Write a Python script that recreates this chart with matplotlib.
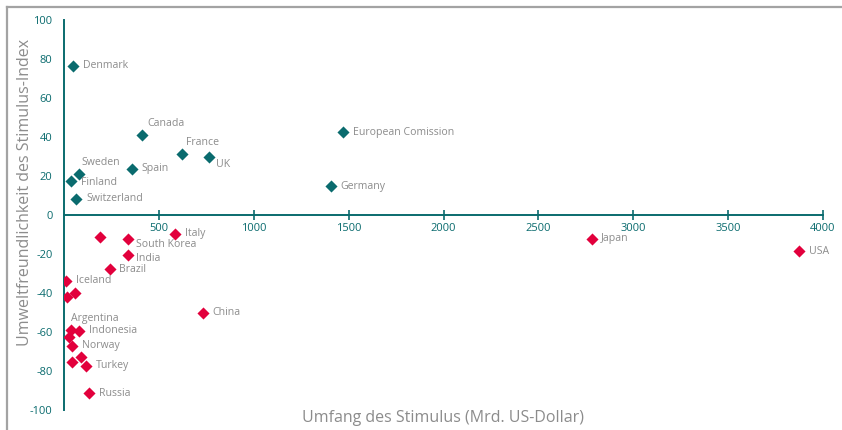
import matplotlib

matplotlib.use("Agg")
import matplotlib.pyplot as plt
from matplotlib.lines import Line2D

TEAL = "#0a6b6e"
RED = "#e2003c"
GRAY = "#8c8c8c"

# positive (green) stimulus packages
green_names = ["Denmark", "Canada", "France", "UK", "Spain", "Sweden", "Finland",
               "Switzerland", "European Comission", "Germany"]
green_x = [46, 408, 619, 763, 355, 76, 35, 63, 1469, 1406]
green_y = [76.6, 41, 31.4, 29.7, 23.6, 21.2, 17.4, 8.4, 42.4, 14.7]

# negative stimulus packages (empty name = unlabelled point)
red_names = ["", "South Korea", "Italy", "India", "Brazil", "Iceland", "", "", "China",
             "Argentina", "Indonesia", "", "Norway", "", "", "Turkey", "Russia",
             "Japan", "USA"]
red_x = [188, 336, 585, 336, 239, 11, 55, 14, 730, 37, 79, 23, 41, 90, 41, 113, 132,
         2780, 3875]
red_y = [-11.1, -12.1, -9.7, -20.3, -27.9, -33.8, -40.2, -42.2, -50.1, -58.8, -59.3,
         -62.7, -67, -72.7, -75.4, -77.4, -91.4, -12.3, -18.5]

x_ticks = [500, 1000, 1500, 2000, 2500, 3000, 3500, 4000]
y_ticks = [-100, -80, -60, -40, -20, 0, 20, 40, 60, 80, 100]

# label offsets in points (default: right of the marker)
offsets = {
    "Canada": (4, 8), "France": (3, 8), "UK": (5, -5), "Sweden": (2, 8),
    "Finland": (7, -1), "South Korea": (6, -4), "India": (6, -3),
    "Argentina": (0, 8),
}

plt.rcParams["font.family"] = ["Open Sans", "DejaVu Sans"]

fig = plt.figure(figsize=(8.42, 4.30), dpi=100)
ax = fig.add_axes([64.3 / 842, 20 / 430, (823 - 64.3) / 842, 390 / 430])

ax.scatter(green_x, green_y, marker="D", s=38, color=TEAL, linewidths=0, zorder=3)
ax.scatter(red_x, red_y, marker="D", s=38, color=RED, linewidths=0, zorder=3)

for names, xs, ys in [(green_names, green_x, green_y), (red_names, red_x, red_y)]:
    for name, x, y in zip(names, xs, ys):
        if not name:
            continue
        dx, dy = offsets.get(name, (7, 0))
        ax.annotate(name, (x, y), xytext=(dx, dy), textcoords="offset points",
                    ha="left", va="center", fontsize=7.6, color=GRAY)

ax.set_xlim(0, 4000)
ax.set_ylim(-100, 100)

for side in ["top", "right"]:
    ax.spines[side].set_visible(False)
ax.spines["bottom"].set_position(("data", 0))
ax.spines["left"].set_bounds(-100, 100)
for side in ["left", "bottom"]:
    ax.spines[side].set_color(TEAL)
    ax.spines[side].set_linewidth(1.4)

ax.set_xticks(x_ticks)
ax.set_xticklabels([str(v) for v in x_ticks])
ax.tick_params(axis="x", direction="inout", length=7, width=1.2, color=TEAL,
               labelcolor=TEAL, labelsize=8, pad=2.5)
ax.set_yticks(y_ticks)
ax.set_yticklabels([str(v) for v in y_ticks])
ax.tick_params(axis="y", length=0, labelcolor=TEAL, labelsize=8, pad=8.5)
ax.set_yticks([-100, 100], minor=True)
ax.tick_params(axis="y", which="minor", direction="in", length=6, width=1.4, color=TEAL)
ax.set_facecolor("none")

fig.text(25 / 842, 1 - 192 / 430, "Umweltfreundlichkeit des Stimulus-Index",
         rotation=90, ha="center", va="center", fontsize=11.5, color=GRAY)
fig.text(443 / 842, 1 - 418 / 430, "Umfang des Stimulus (Mrd. US-Dollar)",
         ha="center", va="center", fontsize=11.5, color=GRAY)

# grey frame at top and left
fig.add_artist(Line2D([7 / 842, 1], [1 - 7 / 430, 1 - 7 / 430], color="#a3a3a3", lw=1.6))
fig.add_artist(Line2D([7 / 842, 7 / 842], [0, 1 - 7 / 430], color="#a3a3a3", lw=1.6))

fig.savefig("out.png", dpi=100)
